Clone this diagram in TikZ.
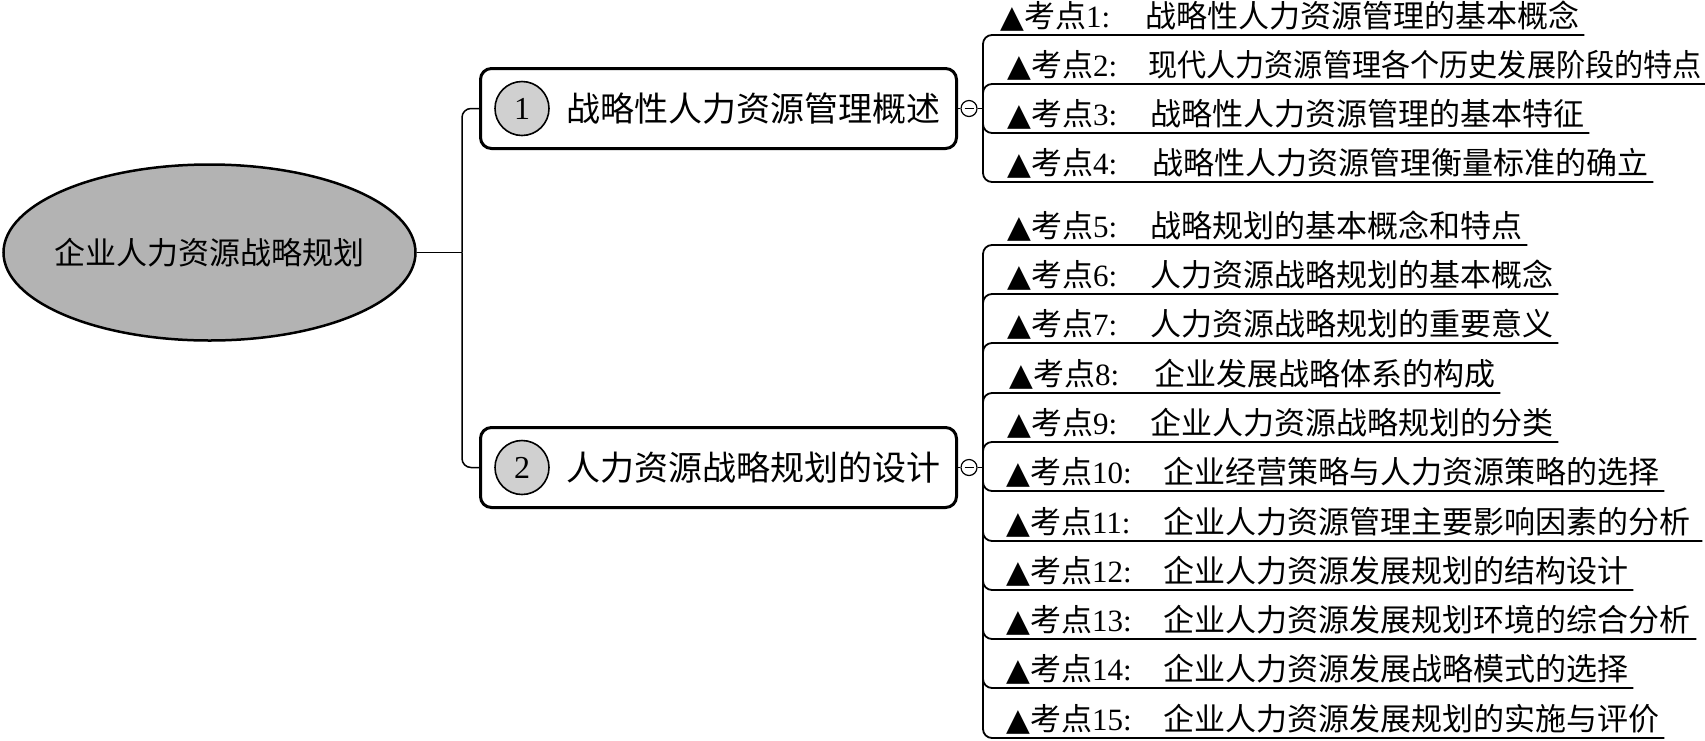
\documentclass[tikz,border=0pt]{standalone}
\usepackage{fontspec}
\usepackage{graphicx}
\setmainfont{Liberation Serif}
\newfontfamily\cjk{Noto Sans CJK SC}
\newfontfamily\symfont{DejaVu Sans}
\usetikzlibrary{shapes.geometric}
\definecolor{ellgray}{HTML}{B3B3B3}
\definecolor{numgray}{HTML}{D0D0D0}
\newcommand\tri{{\symfont ▲}}
\tikzset{
  conn/.style={line width=1.5pt, rounded corners=9pt},
  branch/.style={line width=1.8pt, rounded corners=9pt},
  topic/.style={draw, line width=3pt, rounded corners=11pt, fill=white, minimum width=476pt, minimum height=80pt, inner sep=0pt},
  numc/.style={circle, draw, line width=1.6pt, fill=numgray, minimum size=54pt, inner sep=0pt, font=\fontsize{32}{32}\selectfont},
  ttext/.style={anchor=west, inner sep=0pt, font=\cjk\fontsize{34}{34}\selectfont},
  coll/.style={circle, draw, line width=1.2pt, minimum size=16pt, inner sep=0pt, fill=white},
  leaf/.style={anchor=south west, inner sep=0pt, text depth=7.5pt, font=\fontsize{31}{31}\selectfont},
}
\begin{document}
\begin{tikzpicture}[x=1pt,y=-1pt]
\useasboundingbox[fill=white] (0,0) rectangle (1705,740);
% root
\node[ellipse, draw, line width=2.5pt, fill=ellgray, minimum width=412pt, minimum height=176pt, inner sep=0pt] (root) at (209.5,252.5) {};
\node[inner sep=0pt, font=\cjk\fontsize{31}{31}\selectfont] (roottext) at (root.center) {企业人力资源战略规划};
\coordinate (m) at (462,252.5);
% topics
\node[topic] (B1) at (718.5,108.5) {};
\node[numc] (n1) at (522,108.5) {1};
\node[ttext] (t1) at (566,108.5) {战略性人力资源管理概述};
\node[topic] (B2) at (718.5,467.5) {};
\node[numc] (n2) at (522,467.5) {2};
\node[ttext] (t2) at (566,467.5) {人力资源战略规划的设计};
\draw[conn] (root.east) -- (m);
\draw[conn] (m) |- (B1.west);
\draw[conn] (m) |- (B2.west);
% collapse markers
\node[coll] (c1) at (969,108.5) {};
\draw[line width=1.2pt] (c1.center) +(-4.5,0) -- +(4.5,0);
\node[coll] (c2) at (969,467.5) {};
\draw[line width=1.2pt] (c2.center) +(-4.5,0) -- +(4.5,0);
\coordinate (j1) at (983,108.5);
\coordinate (j2) at (983,467.5);
\draw[conn] (B1.east) -- (c1.west);
\draw[conn] (c1.east) -- (j1);
\draw[conn] (B2.east) -- (c2.west);
\draw[conn] (c2.east) -- (j2);
% group 1 leaves
\node[leaf] (L1) at (983,35) {\hspace*{17pt}\makebox[145pt][l]{\tri{\cjk 考点}1:}{\cjk 战略性人力资源管理的基本概念}\hspace*{5pt}};
\node[leaf] (L2) at (983,84) {\hspace*{24pt}\makebox[141pt][l]{\tri{\cjk 考点}2:}\scalebox{0.94}[1]{\cjk 现代人力资源管理各个历史发展阶段的特点}\hspace*{3pt}};
\node[leaf] (L3) at (983,133) {\hspace*{24pt}\makebox[143pt][l]{\tri{\cjk 考点}3:}{\cjk 战略性人力资源管理的基本特征}\hspace*{5pt}};
\node[leaf] (L4) at (983,182) {\hspace*{24pt}\makebox[145pt][l]{\tri{\cjk 考点}4:}{\cjk 战略性人力资源管理衡量标准的确立}\hspace*{5pt}};
\foreach \i in {1,...,4} {\draw[branch] (j1) |- (L\i.south east);}
% group 2 leaves
\node[leaf] (L5) at (983,245) {\hspace*{24pt}\makebox[143pt][l]{\tri{\cjk 考点}5:}{\cjk 战略规划的基本概念和特点}\hspace*{5pt}};
\node[leaf] (L6) at (983,294) {\hspace*{24pt}\makebox[143pt][l]{\tri{\cjk 考点}6:}{\cjk 人力资源战略规划的基本概念}\hspace*{5pt}};
\node[leaf] (L7) at (983,343) {\hspace*{24pt}\makebox[143pt][l]{\tri{\cjk 考点}7:}{\cjk 人力资源战略规划的重要意义}\hspace*{5pt}};
\node[leaf] (L8) at (983,393) {\hspace*{26pt}\makebox[145pt][l]{\tri{\cjk 考点}8:}{\cjk 企业发展战略体系的构成}\hspace*{5pt}};
\node[leaf] (L9) at (983,442) {\hspace*{24pt}\makebox[143pt][l]{\tri{\cjk 考点}9:}{\cjk 企业人力资源战略规划的分类}\hspace*{5pt}};
\node[leaf] (L10) at (983,491) {\hspace*{23pt}\makebox[157pt][l]{\tri{\cjk 考点}10:}{\cjk 企业经营策略与人力资源策略的选择}\hspace*{5pt}};
\node[leaf] (L11) at (983,541) {\hspace*{23pt}\makebox[157pt][l]{\tri{\cjk 考点}11:}{\cjk 企业人力资源管理主要影响因素的分析}\hspace*{12pt}};
\node[leaf] (L12) at (983,590) {\hspace*{23pt}\makebox[157pt][l]{\tri{\cjk 考点}12:}{\cjk 企业人力资源发展规划的结构设计}\hspace*{5pt}};
\node[leaf] (L13) at (983,639) {\hspace*{23pt}\makebox[157pt][l]{\tri{\cjk 考点}13:}{\cjk 企业人力资源发展规划环境的综合分析}\hspace*{6pt}};
\node[leaf] (L14) at (983,688) {\hspace*{23pt}\makebox[157pt][l]{\tri{\cjk 考点}14:}{\cjk 企业人力资源发展战略模式的选择}\hspace*{5pt}};
\node[leaf] (L15) at (983,738) {\hspace*{23pt}\makebox[157pt][l]{\tri{\cjk 考点}15:}{\cjk 企业人力资源发展规划的实施与评价}\hspace*{5pt}};
\foreach \i in {5,...,15} {\draw[branch] (j2) |- (L\i.south east);}
\end{tikzpicture}
\end{document}
